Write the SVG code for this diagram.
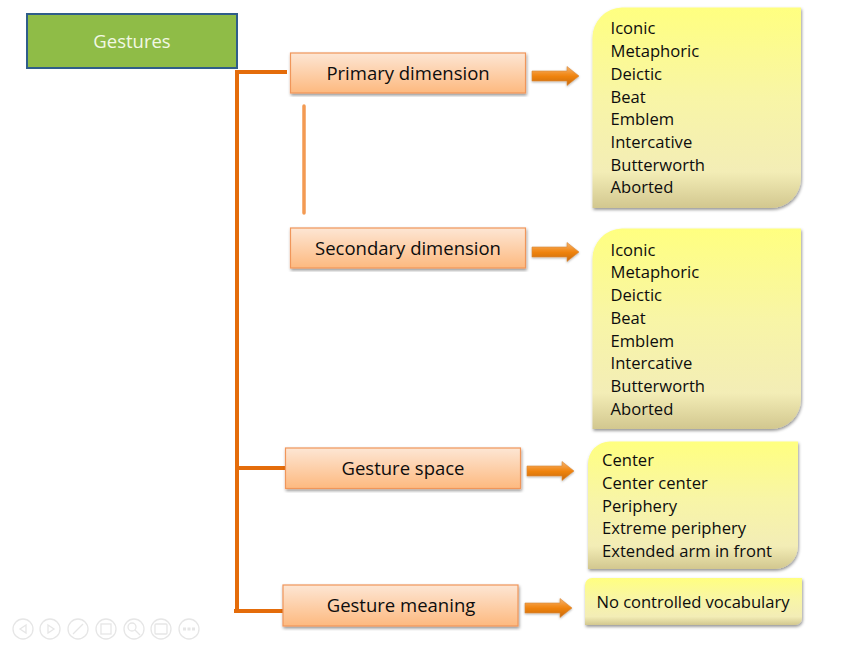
<svg xmlns="http://www.w3.org/2000/svg" width="850" height="667" viewBox="0 0 850 667">
<style>
text{font-family:"Open Sans","Noto Sans","Liberation Sans",sans-serif;fill:#0d0d0d}
.h{font-size:18.5px;text-anchor:middle}
.l{font-size:16.6px}
.o{fill:url(#og);stroke:#f0965a;stroke-width:1.2;filter:url(#sh)}
.y{fill:url(#yg);filter:url(#sh)}
.c{fill:none;stroke:#e46c0a;stroke-width:4}
.a{fill:url(#ag);stroke:#d98a3a;stroke-width:.6;filter:url(#sa)}
.n{fill:none;stroke:#e6e6e6;stroke-width:1.3}
</style>
<defs>
<linearGradient id="og" x1="0" y1="0" x2="0" y2="1"><stop offset="0" stop-color="#fde6d4"/><stop offset="1" stop-color="#fdb97f"/></linearGradient>
<linearGradient id="yg" x1="0" y1="0" x2="0" y2="1"><stop offset="0" stop-color="#ffff80"/><stop offset=".45" stop-color="#f8f5a6"/><stop offset=".82" stop-color="#f3edb6"/><stop offset="1" stop-color="#d2c78f"/></linearGradient>
<linearGradient id="ag" x1="0" y1="0" x2="0" y2="1"><stop offset="0" stop-color="#f6b26a"/><stop offset=".5" stop-color="#f08410"/><stop offset="1" stop-color="#c86a10"/></linearGradient>
<filter id="sh" x="-5%" y="-5%" width="112%" height="115%"><feDropShadow dx=".8" dy="1.8" stdDeviation="1.6" flood-color="#000" flood-opacity=".42"/></filter>
<filter id="sa" x="-10%" y="-20%" width="120%" height="150%"><feDropShadow dx="0" dy="1" stdDeviation=".8" flood-color="#000" flood-opacity=".3"/></filter>
<path id="arr" d="M0 -5H35V-9.500L47 0L35 9.500V5H0Z"/>
</defs>
<g id="connectors">
<path class="c" d="M287 72H237V611M237 468H285M234 611H283"/>
<path d="M304 106V213" fill="none" stroke="#f39a52" stroke-width="3.500" stroke-linecap="round"/>
<use href="#arr" x="532" y="76" class="a"/>
<use href="#arr" x="532" y="252" class="a"/>
<use href="#arr" x="527" y="471" class="a"/>
<use href="#arr" x="525" y="608" class="a"/>
</g>
<g id="gestures"><rect x="27" y="14" width="210" height="54" fill="#8fbc47" stroke="#2f5d8a" stroke-width="2"/><text class="h" x="132" y="48" style="fill:#f2f8e4;font-size:18.500px">Gestures</text></g>
<g id="primary"><rect class="o" x="290.500" y="53" width="235" height="40"/><text class="h" x="408" y="80">Primary dimension</text></g>
<g id="secondary"><rect class="o" x="290.500" y="228" width="235" height="40"/><text class="h" x="408" y="255">Secondary dimension</text></g>
<g id="space"><rect class="o" x="285.500" y="448" width="235" height="40.500"/><text class="h" x="403" y="475">Gesture space</text></g>
<g id="meaning"><rect class="o" x="283" y="585" width="235" height="41"/><text class="h" x="401" y="612">Gesture meaning</text></g>
<g id="list1"><path class="y" d="M622 7.500H801V178A30 30 0 0 1 771 208H592.500V38A30 30 0 0 1 622 7.500Z"/>
<text class="l" x="610.500" y="34">Iconic</text><text class="l" x="610.500" y="57">Metaphoric</text><text class="l" x="610.500" y="79.500">Deictic</text><text class="l" x="610.500" y="102.500">Beat</text><text class="l" x="610.500" y="125">Emblem</text><text class="l" x="610.500" y="148">Intercative</text><text class="l" x="610.500" y="170.500">Butterworth</text><text class="l" x="610.500" y="193">Aborted</text></g>
<g id="list2"><path class="y" d="M622 228.500H801V399A30 30 0 0 1 771 429H592.500V259A30 30 0 0 1 622 228.500Z"/>
<text class="l" x="610.500" y="255.500">Iconic</text><text class="l" x="610.500" y="278">Metaphoric</text><text class="l" x="610.500" y="301">Deictic</text><text class="l" x="610.500" y="323.500">Beat</text><text class="l" x="610.500" y="346.500">Emblem</text><text class="l" x="610.500" y="369">Intercative</text><text class="l" x="610.500" y="391.500">Butterworth</text><text class="l" x="610.500" y="414.500">Aborted</text></g>
<g id="list3"><path class="y" d="M610 441.500H798V546A23 23 0 0 1 775 569H588V464A22 22 0 0 1 610 441.500Z"/>
<text class="l" x="602" y="466">Center</text><text class="l" x="602" y="488.500">Center center</text><text class="l" x="602" y="511.500">Periphery</text><text class="l" x="602" y="534">Extreme periphery</text><text class="l" x="602" y="556.500">Extended arm in front</text></g>
<g id="list4"><path class="y" d="M592 578H802V618A7 7 0 0 1 795 625H585V585A7 7 0 0 1 592 578Z"/>
<text class="l" x="596.500" y="607.500" textLength="193" lengthAdjust="spacing">No controlled vocabulary</text></g>
<g id="nav">
<circle class="n" cx="23" cy="629" r="10"/><path class="n" d="M26 625L20 629L26 633Z"/>
<circle class="n" cx="50" cy="629" r="10"/><path class="n" d="M48 625L54 629L48 633Z"/>
<circle class="n" cx="78" cy="629" r="10"/><path class="n" d="M73 634L83 624"/>
<circle class="n" cx="106" cy="629" r="10"/><rect class="n" x="101" y="624" width="10" height="10"/>
<circle class="n" cx="134" cy="629" r="10"/><circle class="n" cx="132" cy="627" r="4"/><path class="n" d="M135 630L140 635"/>
<circle class="n" cx="161" cy="629" r="10"/><rect class="n" x="155" y="624" width="12" height="10" rx="1"/>
<circle class="n" cx="189" cy="629" r="10"/><path d="M183 629H195" stroke="#e6e6e6" stroke-width="3" stroke-dasharray="3 1.500" fill="none"/>
</g>
</svg>
